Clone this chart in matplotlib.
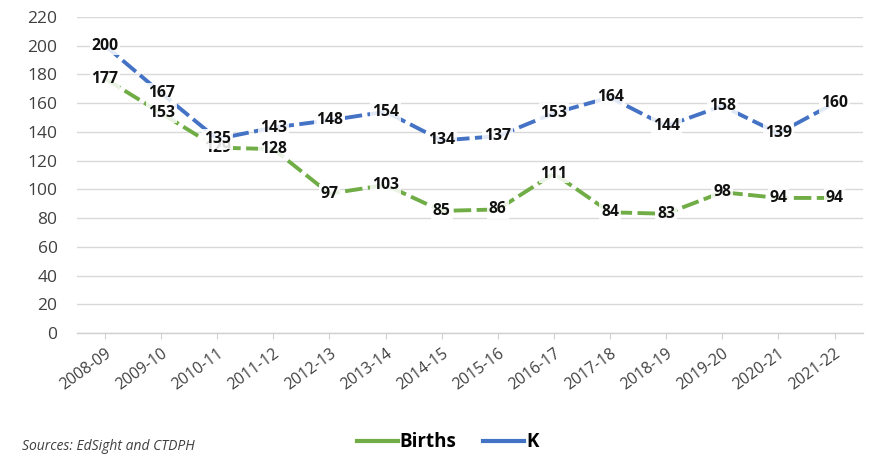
import matplotlib
matplotlib.use("Agg")
import matplotlib.pyplot as plt
from matplotlib.lines import Line2D

categories = ["2008-09", "2009-10", "2010-11", "2011-12", "2012-13", "2013-14", "2014-15",
              "2015-16", "2016-17", "2017-18", "2018-19", "2019-20", "2020-21", "2021-22"]
births = [177, 153, 129, 128, 97, 103, 85, 86, 111, 84, 83, 98, 94, 94]
kinder = [200, 167, 135, 143, 148, 154, 134, 137, 153, 164, 144, 158, 139, 160]
yticks = list(range(0, 221, 20))

GREEN = "#70AD47"
BLUE = "#4472C4"
FONT = "Open Sans"

plt.rcParams["font.family"] = [FONT, "DejaVu Sans"]

fig = plt.figure(figsize=(8.69, 4.55), dpi=100)
ax = fig.add_axes([0.0886, 0.268, 0.904, 0.695])

x = list(range(len(categories)))
ax.plot(x, births, color=GREEN, lw=2.8, dashes=(4.5, 1.4), zorder=3, solid_capstyle="butt")
ax.plot(x, kinder, color=BLUE, lw=2.8, dashes=(4.5, 1.4), zorder=3, solid_capstyle="butt")

for xi, v in zip(x, births):
    ax.text(xi, v, str(v), ha="center", va="center", fontsize=11.3, fontweight="bold",
            color="#111111", zorder=4,
            bbox=dict(boxstyle="square,pad=0.12", fc="white", ec="none", alpha=0.85))
for xi, v in zip(x, kinder):
    ax.text(xi, v, str(v), ha="center", va="center", fontsize=11.3, fontweight="bold",
            color="#111111", zorder=5,
            bbox=dict(boxstyle="square,pad=0.12", fc="white", ec="none", alpha=0.85))

ax.set_xlim(-0.5, len(categories) - 0.5)
ax.set_ylim(0, 220)
ax.set_yticks(yticks)
ax.set_yticklabels([str(t) for t in yticks], fontsize=12.5, color="#404040")
ax.set_xticks(x)
ax.set_xticklabels(categories, rotation=36, ha="right", rotation_mode="anchor",
                   fontsize=11.3, color="#404040")
ax.tick_params(axis="y", length=0, pad=14)
ax.tick_params(axis="x", length=4, width=0.8, color="#d0d0d0", pad=5)
ax.grid(axis="y", color="#d9d9d9", lw=1)
ax.set_axisbelow(True)
for s in ["top", "right", "left"]:
    ax.spines[s].set_visible(False)
ax.spines["bottom"].set_color("#d0d0d0")
ax.spines["bottom"].set_linewidth(1)

handles = [Line2D([], [], color=GREEN, lw=3), Line2D([], [], color=BLUE, lw=3)]
leg = fig.legend(handles, ["Births", "K"], loc="center", bbox_to_anchor=(0.515, 0.028),
                 ncol=2, frameon=False, handlelength=2.2, handletextpad=0.1,
                 columnspacing=1.4, prop={"family": FONT, "weight": "bold", "size": 13.5})

fig.text(0.025, 0.018, "Sources: EdSight and CTDPH", fontsize=10, style="italic",
         color="#404040", ha="left", va="center")

fig.savefig("out.png", dpi=100)
